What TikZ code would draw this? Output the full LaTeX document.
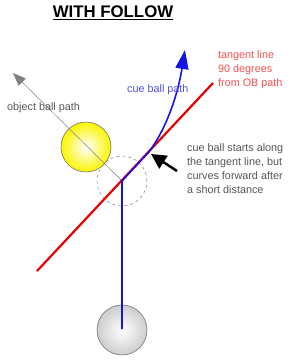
\documentclass[tikz,border=0pt]{standalone}
\usepackage{fontspec}
\setmainfont{Liberation Sans}
\usetikzlibrary{arrows.meta}
\definecolor{tanred}{RGB}{228,0,0}
\definecolor{tantext}{RGB}{240,80,80}
\definecolor{cueblue}{RGB}{20,20,230}
\definecolor{cuetext}{RGB}{80,80,230}
\definecolor{notegray}{RGB}{85,85,85}
\definecolor{ballyellow}{RGB}{250,245,0}
\definecolor{ballgray}{RGB}{205,205,205}
\tikzset{
  ball/.style={circle, minimum size=50pt, inner sep=0pt, draw=gray!90!black, line width=0.6pt},
  lbl/.style={font=\fontsize{10.8}{14}\selectfont, align=left, inner sep=0pt, anchor=west},
}
\begin{document}
\begin{tikzpicture}[x=1pt,y=-1pt]
\useasboundingbox (0,0) rectangle (302,360);
% title
\node[font=\fontsize{16.8}{19}\selectfont\bfseries, inner sep=0pt] (title) at (113,13) {\underline{WITH FOLLOW}};
% balls
\node[ball, inner color=white, outer color=ballyellow] (ob) at (86,147) {};
\node[ball, draw=gray, dashed, line width=0.5pt] (ghost) at (122,181) {};
\node[ball, inner color=white, outer color=ballgray] (cb) at (122,330) {};
\coordinate (gc) at (122,181);
\coordinate (cbc) at (122,329);
% object ball path
\coordinate (obtip) at (13,73);
\draw[gray, line width=0.5pt, -{Triangle[length=13pt,width=10pt]}] (gc) -- (obtip);
% tangent line
\coordinate (tA) at (37,271);
\coordinate (tB) at (213,83);
\draw[tanred, line width=2.2pt] (tA) -- (tB);
% cue ball path
\coordinate (t1) at (146,155);
\coordinate (cbtip) at (185,50);
\draw[cueblue, line width=1.6pt, -{Triangle[length=19pt,width=13pt]}]
  (cbc) -- (gc) -- (t1) .. controls (160,140) and (176,105) .. (cbtip);
% pointer arrow
\coordinate (pt) at (151,154);
\coordinate (pf) at (177,171);
\draw[black, line width=2.5pt, -{Triangle[length=15pt,width=15pt]}] (pf) -- (pt);
% labels
\node[lbl, text=notegray] (oblbl) at (7,108) {object ball path};
\node[lbl, text=cuetext] (cblbl) at (127,90) {cue ball path};
\node[lbl, text=tantext, anchor=north west] (tanlbl) at (218,50) {tangent line\\90 degrees\\from OB path};
\node[lbl, text=notegray, anchor=north west] (note) at (187,143) {cue ball starts along\\the tangent line, but\\curves forward after\\a short distance};
\end{tikzpicture}
\end{document}
